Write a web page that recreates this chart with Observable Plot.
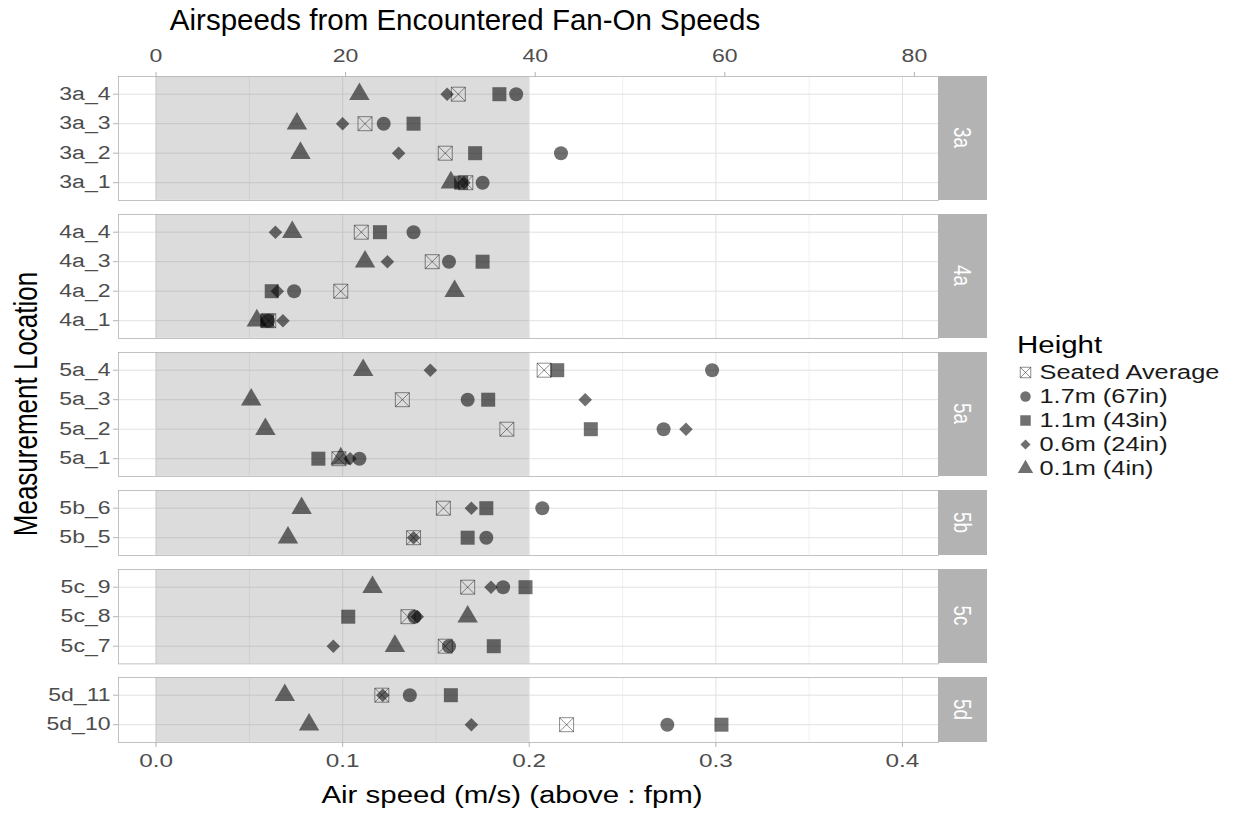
<!DOCTYPE html>
<html>
<head>
<meta charset="utf-8">
<script src="https://cdn.jsdelivr.net/npm/d3@7"></script>
<script src="https://cdn.jsdelivr.net/npm/@observablehq/plot@0.6"></script>
<style>
  body { margin: 0; background: #fff; font-family: "Liberation Sans", Arial, sans-serif; }
  #chart { position: relative; width: 1238px; height: 813px; overflow: hidden; background: #fff; }
  #chart > svg, #chart > div { position: absolute; }
  .centered { white-space: nowrap; line-height: 1; color: #000; }
  .strip { background: #b3b3b3; color: #fff; display: flex; align-items: center; justify-content: center; }
  .strip span { font-size: 19px; line-height: 1; }
</style>
</head>
<body>
<div id="chart"></div>
<script>
// Measurement locations, grouped into panels by their prefix
const groups = ["3a", "4a", "5a", "5b", "5c", "5d"];
const locations = [
  "3a_4", "3a_3", "3a_2", "3a_1",
  "4a_4", "4a_3", "4a_2", "4a_1",
  "5a_4", "5a_3", "5a_2", "5a_1",
  "5b_6", "5b_5",
  "5c_9", "5c_8", "5c_7",
  "5d_11", "5d_10"
];

// Air speeds in m/s, one value per location (same order as above)
const seatedAverage = [0.162, 0.112, 0.155, 0.166, 0.110, 0.148, 0.099, 0.0604, 0.208, 0.132, 0.188, 0.098, 0.154, 0.138, 0.167, 0.135, 0.155, 0.121, 0.220];
const height17 = [0.193, 0.122, 0.217, 0.175, 0.138, 0.157, 0.074, 0.060, 0.298, 0.167, 0.272, 0.109, 0.207, 0.177, 0.186, 0.1385, 0.157, 0.136, 0.274];
const height11 = [0.184, 0.138, 0.171, 0.1635, 0.120, 0.175, 0.062, 0.0595, 0.215, 0.178, 0.233, 0.087, 0.177, 0.167, 0.198, 0.103, 0.181, 0.158, 0.303];
const height06 = [0.156, 0.100, 0.130, 0.165, 0.064, 0.124, 0.065, 0.068, 0.147, 0.230, 0.284, 0.104, 0.169, 0.138, 0.1795, 0.140, 0.095, 0.1215, 0.169];
const height01 = [0.109, 0.0755, 0.0774, 0.158, 0.073, 0.112, 0.160, 0.054, 0.111, 0.051, 0.0586, 0.099, 0.078, 0.0707, 0.116, 0.167, 0.128, 0.069, 0.082];

const seriesNames = ["Seated Average", "1.7m (67in)", "1.1m (43in)", "0.6m (24in)", "0.1m (4in)"];
const seriesValues = [seatedAverage, height17, height11, height06, height01];

// Axis ticks: m/s below, feet per minute above
const msTicks = [0, 0.1, 0.2, 0.3, 0.4];
const msMinorTicks = [0.05, 0.15, 0.25, 0.35];
const fpmTicks = [0, 20, 40, 60, 80];
const FPM_PER_MS = 196.85;

// Shaded comfort band (m/s)
const comfortBand = [0, 0.2];

// Long-format records
const records = [];
seriesNames.forEach((name, s) => {
  locations.forEach((loc, i) => {
    records.push({ series: name, location: loc, group: loc.split("_")[0], value: seriesValues[s][i] });
  });
});

// Square with a cross through it
const boxCross = {
  draw(context, size) {
    const h = Math.sqrt(size) / 2;
    context.moveTo(-h, -h);
    context.lineTo(h, -h);
    context.lineTo(h, h);
    context.lineTo(-h, h);
    context.closePath();
    context.moveTo(-h, -h);
    context.lineTo(h, h);
    context.moveTo(h, -h);
    context.lineTo(-h, h);
  }
};

const FONT = '"Liberation Sans", Arial, sans-serif';
const WIDE = 1.28; // horizontal stretch of the lettering
const seriesStyle = {
  "Seated Average": { symbol: boxCross, r: 7.9, fill: "none", stroke: "black", strokeOpacity: 0.45, strokeWidth: 1 },
  "1.7m (67in)": { symbol: "circle", r: 7, fill: "black", fillOpacity: 0.56 },
  "1.1m (43in)": { symbol: "square", r: 7.9, fill: "black", fillOpacity: 0.56 },
  "0.6m (24in)": { symbol: "diamond2", r: 6.1, fill: "black", fillOpacity: 0.56 },
  "0.1m (4in)": { symbol: "triangle", r: 7.6, fill: "black", fillOpacity: 0.56 }
};
const legendScale = 0.75;

// Layout
const X_DOMAIN = [-0.0201, 0.4193];
const PANEL_LEFT = 118, PANEL_RIGHT = 938, STRIP_W = 49;
const STEP = 29.5, GAP = 14, FIRST_TOP = 76, BOTTOM_MARGIN = 71;

const chart = document.getElementById("chart");

// widen every text element of an svg around its own anchor point
function widenText(root, s) {
  root.querySelectorAll("text").forEach(t => {
    const x = +t.getAttribute("x") || 0, y = +t.getAttribute("y") || 0;
    const tr = t.getAttribute("transform") || "";
    t.setAttribute("transform", `${tr} translate(${x},${y}) scale(${s},1) translate(${-x},${-y})`);
  });
}

function addText(text, x, y, size, transform) {
  const d = document.createElement("div");
  d.className = "centered";
  d.textContent = text;
  d.style.left = x + "px";
  d.style.top = y + "px";
  d.style.fontSize = size + "px";
  d.style.transform = transform;
  chart.appendChild(d);
  return d;
}

let panelTop = FIRST_TOP;
groups.forEach((group, gi) => {
  const locs = locations.filter(l => l.split("_")[0] === group);
  const rows = records.filter(r => r.group === group);
  const first = gi === 0, last = gi === groups.length - 1;
  const panelH = (locs.length - 1 + 1.2) * STEP;
  const mt = first ? panelTop : 1;
  const mb = last ? BOTTOM_MARGIN : 1;

  const marks = [
    Plot.frame({ fill: "white" }),
    Plot.gridX(msMinorTicks, { stroke: "#e6e6e6", strokeOpacity: 1, strokeWidth: 0.6 }),
    Plot.gridX(msTicks, { stroke: "#e1e1e1", strokeOpacity: 1, strokeWidth: 1 }),
    Plot.gridY(locs, { stroke: "#e1e1e1", strokeOpacity: 1, strokeWidth: 1 }),
    Plot.rect([comfortBand], { x1: d => d[0], x2: d => d[1], fill: "#808080", fillOpacity: 0.28 })
  ];
  seriesNames.forEach(name => {
    marks.push(Plot.dot(rows.filter(r => r.series === name), { x: "value", y: "location", ...seriesStyle[name] }));
  });
  marks.push(
    Plot.frame({ stroke: "#b3b3b3", strokeWidth: 0.8 }),
    Plot.axisY({ tickSize: 5, tickPadding: 3, fontSize: 18, fill: "#4d4d4d", stroke: "#b3b3b3", label: null })
  );
  if (first) {
    marks.push(Plot.axisX({
      anchor: "top",
      ticks: fpmTicks.map(f => f / FPM_PER_MS),
      tickFormat: d => String(Math.round(d * FPM_PER_MS)),
      tickSize: 5, tickPadding: 9, fontSize: 18, fill: "#4d4d4d", stroke: "#b3b3b3", label: null
    }));
  }
  if (last) {
    marks.push(Plot.axisX({
      anchor: "bottom",
      ticks: msTicks,
      tickFormat: d3.format(".1f"),
      tickSize: 5, tickPadding: 6, fontSize: 19, fill: "#4d4d4d", stroke: "#b3b3b3", label: null
    }));
  }

  const svg = Plot.plot({
    width: PANEL_RIGHT + 2,
    height: mt + panelH + mb,
    marginLeft: PANEL_LEFT,
    marginRight: 2,
    marginTop: mt,
    marginBottom: mb,
    x: { domain: X_DOMAIN, axis: null },
    y: { type: "point", domain: locs, padding: 0.6, round: false, axis: null },
    style: { fontFamily: FONT, background: "transparent", overflow: "visible" },
    marks
  });
  widenText(svg, WIDE);
  svg.style.left = "0px";
  svg.style.top = (first ? 0 : panelTop - 1) + "px";
  chart.appendChild(svg);

  // facet strip
  const strip = document.createElement("div");
  strip.className = "strip";
  strip.style.left = PANEL_RIGHT + "px";
  strip.style.top = panelTop + "px";
  strip.style.width = STRIP_W + "px";
  strip.style.height = panelH + "px";
  const lab = document.createElement("span");
  lab.textContent = group;
  lab.style.transform = `rotate(90deg) scaleY(${WIDE})`;
  strip.appendChild(lab);
  chart.appendChild(strip);

  panelTop += panelH + GAP;
});

// Titles
addText("Airspeeds from Encountered Fan-On Speeds", 465, 20, 29.5, "translate(-50%,-50%)");
addText("Air speed (m/s) (above : fpm)", 512, 795, 23, `translate(-50%,-50%) scaleX(${WIDE})`);
addText("Measurement Location", 25, 404, 26, `translate(-50%,-50%) rotate(-90deg) scaleY(${WIDE})`);

// Legend
addText("Height", 1017, 345, 23, `translate(0,-50%) scaleX(${WIDE})`).style.transformOrigin = "left center";
const legendStep = 24;
const legend = Plot.plot({
  width: 228,
  height: legendStep * seriesNames.length,
  marginLeft: 15, marginRight: 0, marginTop: 0, marginBottom: 0,
  x: { domain: [0, 1], axis: null },
  y: { type: "point", domain: seriesNames, padding: 0.5, axis: null, round: false },
  style: { fontFamily: FONT, background: "transparent", overflow: "visible" },
  marks: [
    ...seriesNames.map(name => {
      const st = seriesStyle[name];
      return Plot.dot([name], { y: d => d, frameAnchor: "left", ...st, r: st.r * legendScale });
    }),
    Plot.text(seriesNames, { y: d => d, frameAnchor: "left", dx: 14, text: d => d, textAnchor: "start", fontSize: 19.8, fill: "#1a1a1a" })
  ]
});
widenText(legend, WIDE);
legend.style.left = "1010px";
legend.style.top = (372 - legendStep / 2) + "px";
chart.appendChild(legend);
</script>
</body>
</html>
